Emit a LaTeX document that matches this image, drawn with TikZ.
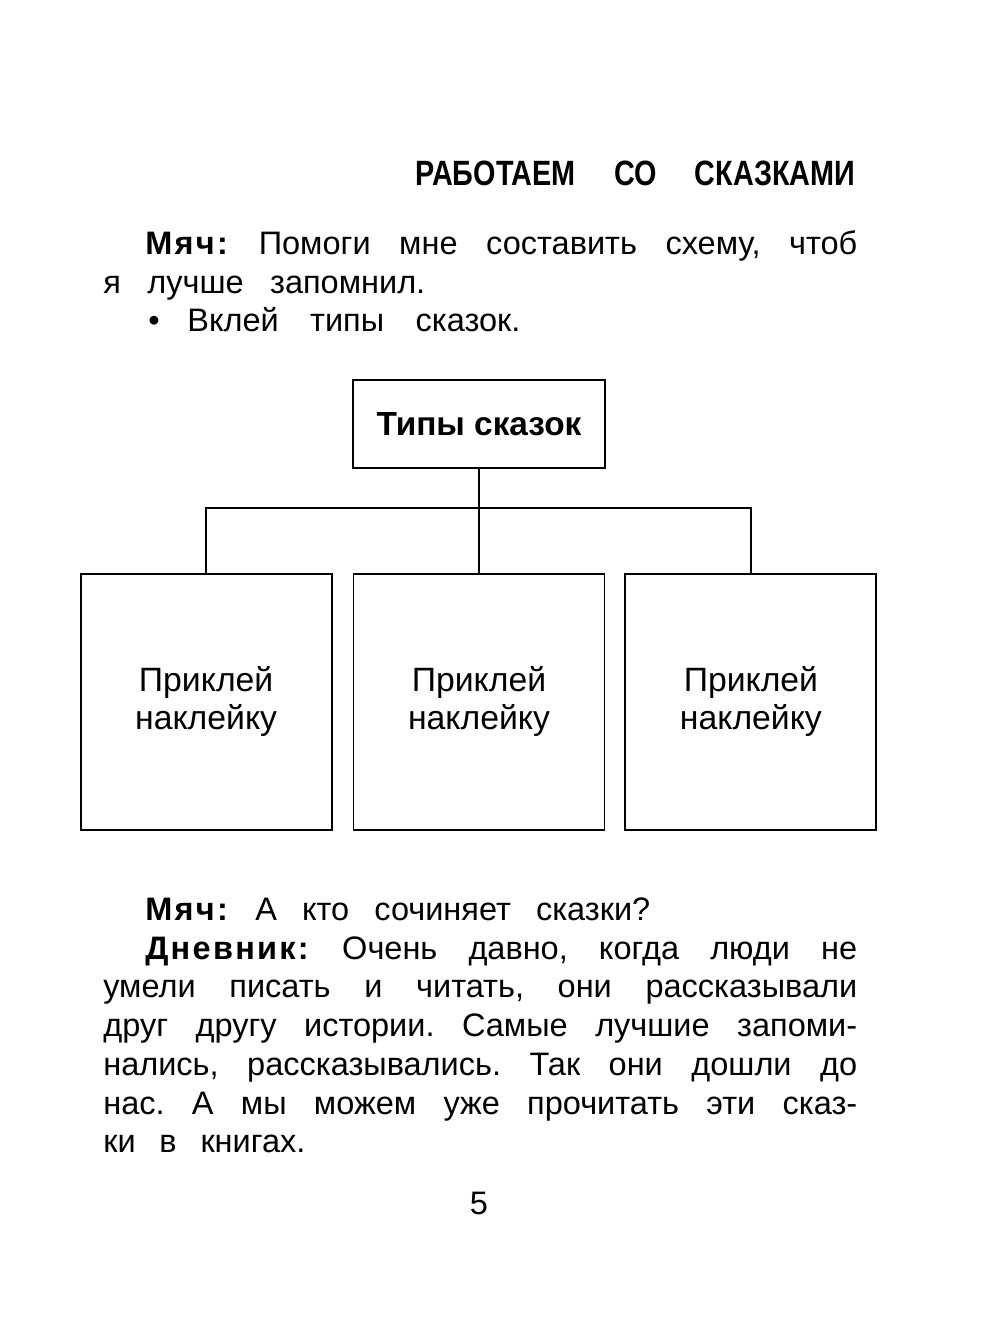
\documentclass[tikz,border=0pt]{standalone}
\usepackage{fontspec}
\setmainfont{Liberation Sans}[WordSpace=2, BoldFeatures={LetterSpace=7}]
\newfontfamily\boxfont{Liberation Sans}
\newfontfamily\headfont{Liberation Sans}[FakeStretch=0.82]
\usetikzlibrary{positioning}
\frenchspacing

\begin{document}
\begin{tikzpicture}[
    x=0.02cm, y=-0.02cm,
    head/.style={anchor=base west, inner sep=0pt, font=\headfont\bfseries\fontsize{20}{24}\selectfont},
    textline/.style={anchor=base west, inner sep=0pt, font=\fontsize{18.5}{22}\selectfont},
    typebox/.style={rectangle, draw, line width=1.1pt, minimum width=5.04cm, minimum height=1.76cm, font=\boxfont\bfseries\fontsize{19}{23}\selectfont},
    stickerbox/.style={rectangle, draw, line width=1.1pt, minimum width=5.02cm, minimum height=5.12cm, align=center, font=\boxfont\fontsize{19.2}{21.6}\selectfont},
    link/.style={line width=0.9pt}
]
\useasboundingbox (0,0) rectangle (1000,1317);

% Heading
\node[head] (heading) at (415,186) {\makebox[8.8cm][s]{РАБОТАЕМ СО СКАЗКАМИ}};

% Task text
\node[textline] (task1) at (145,255) {\makebox[14.24cm][s]{\textbf{Мяч:} Помоги мне составить схему, чтоб}};
\node[textline] (task2) at (103,294) {\makebox[6.44cm][s]{я лучше запомнил.}};
\node[textline] (bullet) at (148,332) {•};
\node[textline] (task3) at (187,332) {\makebox[6.66cm][s]{Вклей типы сказок.}};

% Scheme
\node[typebox] (types) at (479,424) {Типы сказок};
\node[stickerbox, below=2.08cm of types] (middle) {Приклей\\наклейку};
\node[stickerbox, left=0.4cm of middle] (left) {Приклей\\наклейку};
\node[stickerbox, right=0.38cm of middle] (right) {Приклей\\наклейку};

\coordinate (fork) at (479,508);
\draw[link] (types.south) -- (fork);
\draw[link] (left.north) |- (fork) -| (right.north);
\draw[link] (fork) -- (middle.north);

% Dialogue
\node[textline] (talk1) at (145,920) {\makebox[10.1cm][s]{\textbf{Мяч:} А кто сочиняет сказки?}};
\node[textline] (talk2) at (145,959) {\makebox[14.24cm][s]{\textbf{Дневник:} Очень давно, когда люди не}};
\node[textline] (talk3) at (103,997) {\makebox[15.08cm][s]{умели писать и читать, они рассказывали}};
\node[textline] (talk4) at (103,1036) {\makebox[15.08cm][s]{друг другу истории. Самые лучшие запоми-}};
\node[textline] (talk5) at (103,1075) {\makebox[15.08cm][s]{нались, рассказывались. Так они дошли до}};
\node[textline] (talk6) at (103,1114) {\makebox[15.08cm][s]{нас. А мы можем уже прочитать эти сказ-}};
\node[textline] (talk7) at (103,1152) {\makebox[4.04cm][s]{ки в книгах.}};

% Page number
\node[textline, anchor=base] (pagenum) at (479,1214) {5};

\end{tikzpicture}
\end{document}
